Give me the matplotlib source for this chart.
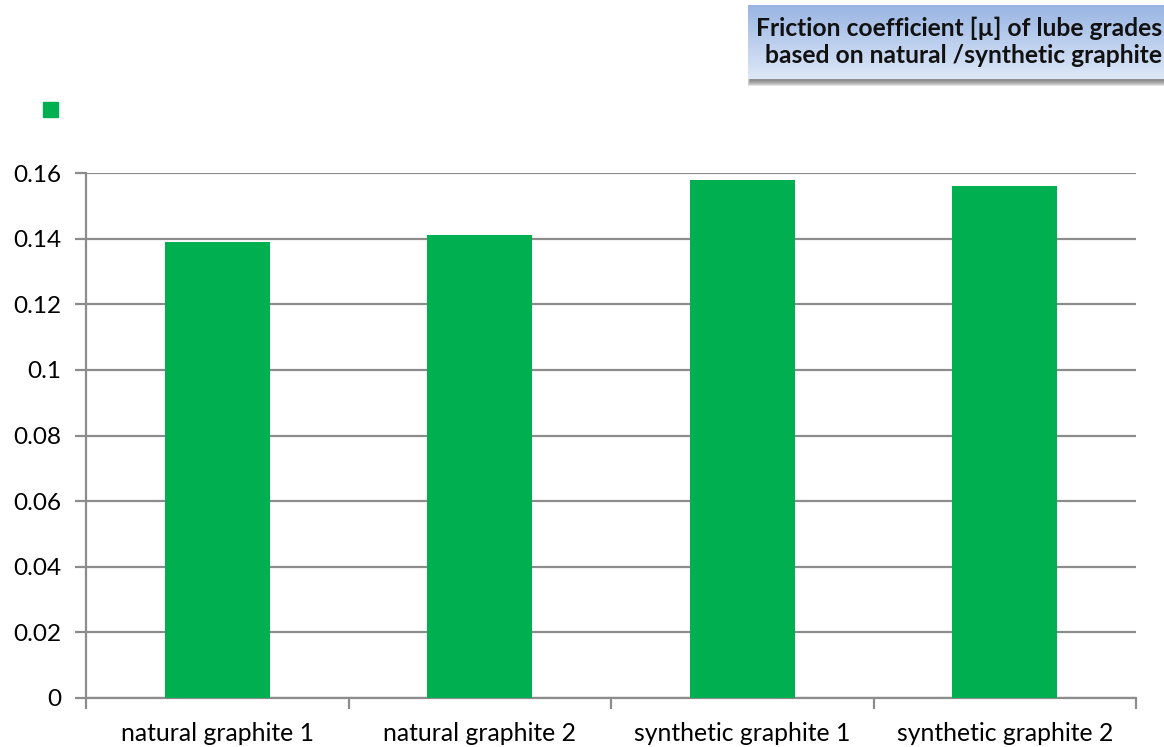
import matplotlib.pyplot as plt
import numpy as np
from matplotlib.patches import Rectangle

categories = ['natural graphite 1', 'natural graphite 2', 'synthetic graphite 1', 'synthetic graphite 2']
friction = [0.139, 0.141, 0.158, 0.156]
yticks = [0, 0.02, 0.04, 0.06, 0.08, 0.1, 0.12, 0.14, 0.16]
ytick_labels = ['0', '0.02', '0.04', '0.06', '0.08', '0.1', '0.12', '0.14', '0.16']
title_lines = 'Friction coefficient [µ] of lube grades\nbased on natural /synthetic graphite'

green = '#00b050'
grid_col = '#8c8c8c'

plt.rcParams['font.family'] = ['Lato', 'DejaVu Sans']

W, H = 1164, 747
fig = plt.figure(figsize=(W / 100, H / 100), dpi=100)

# main plot area
ax = fig.add_axes([86 / W, 1 - 698 / H, (1136 - 86) / W, (698 - 173) / H])
x = np.arange(len(categories))
ax.bar(x, friction, width=0.4, color=green, zorder=3)
ax.set_xlim(-0.5, len(categories) - 0.5)
ax.set_ylim(0, 0.16)
ax.set_yticks(yticks)
ax.set_yticklabels(ytick_labels, fontsize=17.5)
ax.yaxis.grid(True, color=grid_col, linewidth=1.6, zorder=0)
ax.set_xticks(x)
ax.set_xticklabels(categories, fontsize=17.8)
ax.set_xticks(np.arange(len(categories) + 1) - 0.5, minor=True)
ax.tick_params(axis='x', which='major', length=0, pad=17)
ax.tick_params(axis='x', which='minor', length=8, width=1.6, color=grid_col, direction='out')
ax.tick_params(axis='y', length=8, width=1.6, color=grid_col, pad=10)
for s in ['top', 'right']:
    ax.spines[s].set_visible(False)
for s in ['left', 'bottom']:
    ax.spines[s].set_color(grid_col)
    ax.spines[s].set_linewidth(1.6)

# small legend square
fig.patches.append(Rectangle((43 / W, 1 - 117 / H), 15 / W, 15 / H,
                             transform=fig.transFigure, color=green))

# title box with soft shadow and gradient
bx0, by0, bx1, by1 = 748, 5, 1175, 79
for i in range(6):
    fig.patches.append(Rectangle(((bx0 + 2 - i * 0.5) / W, 1 - (by1 + 2 + i) / H), (bx1 - bx0) / W,
                                 (by1 - by0) / H, transform=fig.transFigure,
                                 color='#555555', alpha=0.16, zorder=1, linewidth=0))
tax = fig.add_axes([bx0 / W, 1 - by1 / H, (bx1 - bx0) / W, (by1 - by0) / H], zorder=2)
grad = np.linspace(0, 1, 100).reshape(-1, 1)
c_top = np.array([0.60, 0.71, 0.89])
c_bot = np.array([0.87, 0.91, 0.97])
img = c_top[None, None, :] * (1 - grad[..., None]) + c_bot[None, None, :] * grad[..., None]
tax.imshow(img, aspect='auto', extent=[0, 1, 0, 1], origin='upper')
tax.set_axis_off()
tax.text((1162 - bx0) / (bx1 - bx0), 0.5, title_lines, ha='right', va='center',
         fontsize=17.7, fontweight='bold', linespacing=1.2, color='#111111')

fig.savefig('out.png', dpi=100)
